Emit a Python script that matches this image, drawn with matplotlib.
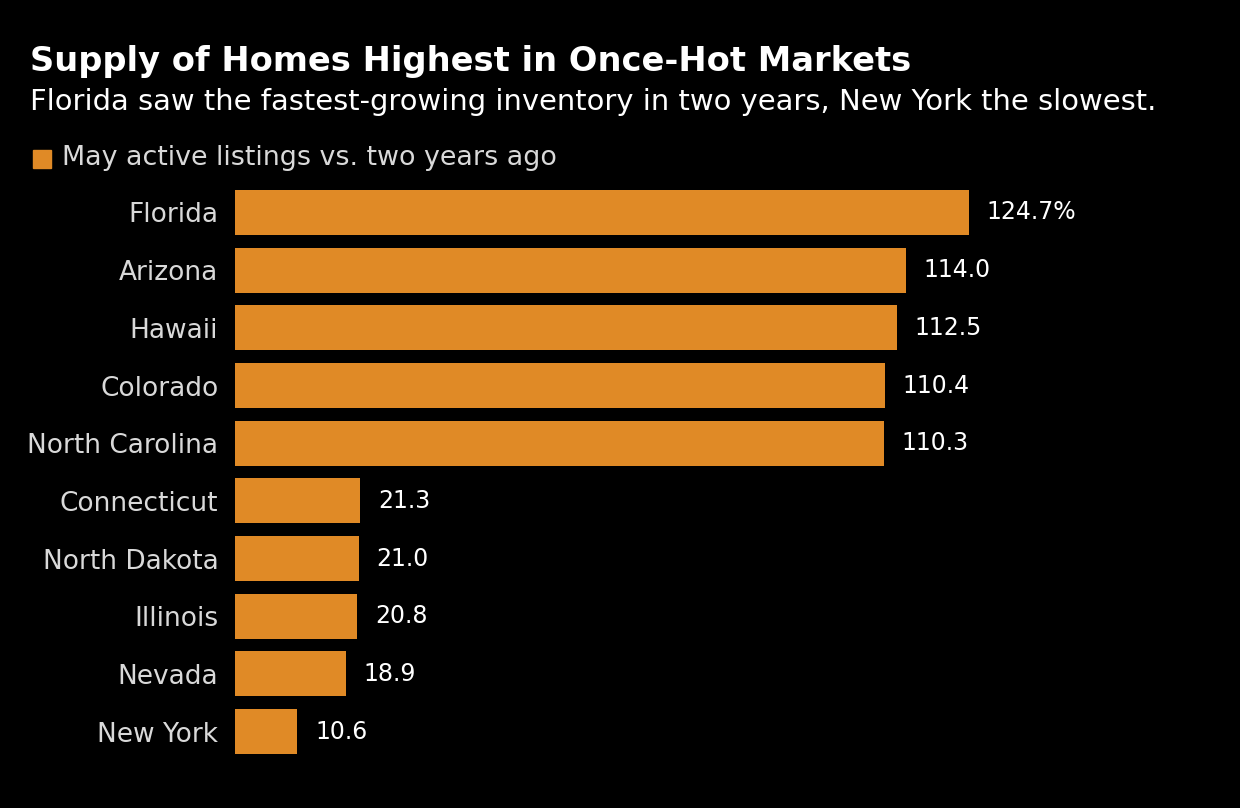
import matplotlib.pyplot as plt

states = ["Florida", "Arizona", "Hawaii", "Colorado", "North Carolina",
          "Connecticut", "North Dakota", "Illinois", "Nevada", "New York"]
growth = [124.7, 114.0, 112.5, 110.4, 110.3, 21.3, 21.0, 20.8, 18.9, 10.6]

bar_color = "#E08A26"
label_color = "#D9D9D9"

W, H = 1240, 808
fig = plt.figure(figsize=(W / 100, H / 100), dpi=100, facecolor="black")

# axes placed in pixel terms to line up with the reference
left, right = 235, 1240
top, bottom = 183.6, 760.5
ax = fig.add_axes([left / W, (H - bottom) / H, (right - left) / W, (bottom - top) / H])
ax.set_facecolor("black")

y = list(range(len(states)))
ax.barh(y, growth, height=0.78, color=bar_color)
ax.set_ylim(len(states) - 0.5, -0.5)
ax.set_xlim(0, (right - left) / 5.886)

for i, v in enumerate(growth):
    txt = f"{v:.1f}%" if i == 0 else f"{v:.1f}"
    ax.text(v + 3, i, txt, va="center", ha="left", color="white", fontsize=17)

ax.set_yticks(y)
ax.set_yticklabels(states, fontsize=19, color=label_color)
ax.tick_params(axis="y", length=0, pad=12)
ax.set_xticks([])
for s in ax.spines.values():
    s.set_visible(False)

fig.text(30 / W, 1 - 62 / H, "Supply of Homes Highest in Once-Hot Markets",
         color="white", fontsize=24.2, fontweight="bold", va="center", ha="left")
fig.text(30 / W, 1 - 102 / H,
         "Florida saw the fastest-growing inventory in two years, New York the slowest.",
         color="white", fontsize=20.9, va="center", ha="left")

# legend: square marker plus text
fig.patches.append(plt.Rectangle((33 / W, 1 - 168 / H), 18 / W, 18 / H,
                                 transform=fig.transFigure, color=bar_color))
fig.text(62 / W, 1 - 158 / H, "May active listings vs. two years ago",
         color=label_color, fontsize=19.4, va="center", ha="left")

fig.savefig("out.png", dpi=100, facecolor="black")
